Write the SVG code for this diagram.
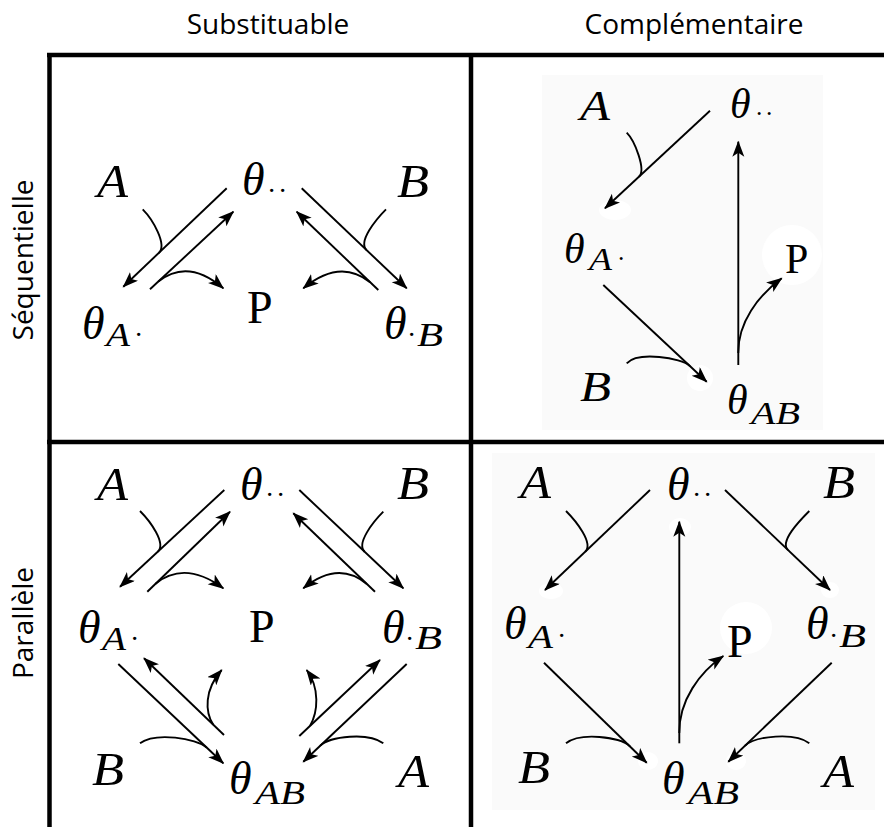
<svg xmlns="http://www.w3.org/2000/svg" width="884" height="827" viewBox="0 0 884 827">
<style>
.ln{stroke:#000;stroke-width:1.9;fill:none}
.ar{marker-end:url(#ah)}
.m{font-family:"Liberation Serif",serif;font-style:italic;fill:#000}
.u{font-family:"Liberation Serif",serif;fill:#000}
.big{font-size:46px}
.sub{font-size:34px}
.dt{font-size:28px}
.sm{font-size:42px}
.smsub{font-size:32px}
.smdt{font-size:25px}
.hd{font-family:"Open Sans","Noto Sans",sans-serif;font-size:28px;fill:#000}
.grid{stroke:#000;stroke-width:4.5;fill:none}
.halo{fill:#fff}
</style>
<defs>
<marker id="ah" markerUnits="userSpaceOnUse" markerWidth="18" markerHeight="14" refX="15" refY="6" orient="auto">
<path d="M0,0 L16,6 L0,12 L4,6 z" fill="#000"/>
</marker>
</defs>
<rect width="884" height="827" fill="#fff"/>
<rect x="542" y="75" width="281" height="355" fill="#fafafa"/>
<rect x="492" y="453" width="383" height="357" fill="#fafafa"/>
<g id="halos">
<ellipse class="halo" cx="615" cy="210" rx="16" ry="10"/>
<circle class="halo" cx="792" cy="255" r="30"/>
<ellipse class="halo" cx="700" cy="378" rx="13" ry="13"/>
<ellipse class="halo" cx="680" cy="527" rx="11" ry="9"/>
<ellipse class="halo" cx="551" cy="591" rx="12" ry="8"/>
<ellipse class="halo" cx="830" cy="590" rx="9" ry="8"/>
<circle class="halo" cx="746" cy="628" r="26"/>
<ellipse class="halo" cx="648" cy="761" rx="10" ry="9"/>
<ellipse class="halo" cx="736" cy="761" rx="10" ry="9"/>
</g>
<g id="grid">
<line class="grid" x1="47" y1="55" x2="884" y2="55"/>
<line class="grid" x1="47" y1="442" x2="884" y2="442"/>
<line class="grid" x1="49.5" y1="53" x2="49.5" y2="827"/>
<line class="grid" x1="471" y1="53" x2="471" y2="827"/>
</g>
<g id="headers">
<text class="hd" x="268" y="34" text-anchor="middle">Substituable</text>
<text class="hd" x="694" y="34" text-anchor="middle">Complémentaire</text>
<text class="hd" transform="translate(33,260) rotate(-90)" text-anchor="middle">Séquentielle</text>
<text class="hd" transform="translate(33,623) rotate(-90)" text-anchor="middle">Parallèle</text>
</g>
<g id="connectors">
<!-- upper-left -->
<path class="ln ar" d="M226.7,188.3 L123.3,286.7"/>
<path class="ln ar" d="M150,289.3 L233.3,211.7"/>
<path class="ln" d="M142.7,209.3 C152.7,219.3 167.5,244.7 158.8,253"/>
<path class="ln ar" d="M158.3,281.5 Q188,258 223.3,288.3"/>
<path class="ln ar" d="M301.7,188.3 L406.7,288.3"/>
<path class="ln ar" d="M378.3,290 L296.7,211.7"/>
<path class="ln" d="M386,209.3 C376,219.3 357.8,241.7 366.5,250"/>
<path class="ln ar" d="M370.1,282.2 Q340,258 303.3,288.3"/>
<!-- upper-right -->
<path class="ln ar" d="M710,110.7 L605,208.3"/>
<path class="ln" d="M626.7,132.7 C634.7,140.7 646.3,169.9 639,176.7"/>
<path class="ln ar" d="M603.3,285 L706.7,381.7"/>
<path class="ln" d="M626.7,363.3 C638,351 681.2,357.8 690,366.1"/>
<path class="ln ar" d="M738.3,365 L738.3,141.7"/>
<path class="ln ar" d="M738.3,353 C738,322 758,296 781.7,278.3"/>
<!-- lower-left -->
<path class="ln ar" d="M224.3,490 L120,586.7"/>
<path class="ln ar" d="M147.3,591.7 L230,511.7"/>
<path class="ln" d="M140,511 C150,521 166.6,543.5 157.8,551.7"/>
<path class="ln ar" d="M155.6,583.7 Q185,560 223.3,588.3"/>
<path class="ln ar" d="M299.3,490 L403.3,588.3"/>
<path class="ln ar" d="M375,591.7 L293.3,513.3"/>
<path class="ln" d="M383.3,511.7 C373.3,521.7 355.9,543.5 364.6,551.7"/>
<path class="ln ar" d="M366.8,583.9 Q338,560 303.3,588.3"/>
<path class="ln ar" d="M118.3,664 L223.3,763.3"/>
<path class="ln ar" d="M224,735 L144,658.3"/>
<path class="ln" d="M140,743.3 C155,732 196.5,738 206.7,747.6"/>
<path class="ln ar" d="M213.3,724.8 C205,712 204,690 221.7,670"/>
<path class="ln ar" d="M406.7,664 L303.3,761.7"/>
<path class="ln ar" d="M299.3,736 L380,660"/>
<path class="ln" d="M383.3,743.3 C368,732 330.2,736.3 320,745.9"/>
<path class="ln ar" d="M310,725.9 C318,712 320,688 306.7,670"/>
<!-- lower-right -->
<path class="ln ar" d="M650,490 L545,590"/>
<path class="ln" d="M566,511 C576,521 593.9,543.4 585.2,551.7"/>
<path class="ln ar" d="M725,490 L830,590"/>
<path class="ln" d="M809.3,511 C799.3,521 779.3,541.7 788,550"/>
<path class="ln ar" d="M544,662.7 L646.7,762.7"/>
<path class="ln" d="M566,743.3 C580,732 620,736.6 630,746.4"/>
<path class="ln ar" d="M831.7,662.7 L728.3,761.7"/>
<path class="ln" d="M809.3,743.3 C795,732 755.1,736 745,745.7"/>
<path class="ln ar" d="M679.3,743.3 L679.3,521.7"/>
<path class="ln ar" d="M679.3,733 C679,700 700,672 723.3,656"/>
</g>
<!-- nodes: upper-left -->
<g id="ul-A"><text class="m big" x="97" y="197" textLength="31" lengthAdjust="spacingAndGlyphs">A</text></g>
<g id="ul-t00"><text class="m big" x="242" y="195">θ</text><text class="u dt" x="267 278" y="200">··</text></g>
<g id="ul-B"><text class="m big" x="397" y="197" textLength="32" lengthAdjust="spacingAndGlyphs">B</text></g>
<g id="ul-tA"><text class="m big" x="82" y="339">θ</text><text class="m sub" x="106" y="346" textLength="24" lengthAdjust="spacingAndGlyphs">A</text><text class="u dt" x="134" y="344">·</text></g>
<g id="ul-P"><text class="u big" x="247" y="323">P</text></g>
<g id="ul-tB"><text class="m big" x="384" y="339">θ</text><text class="u dt" x="407" y="344">·</text><text class="m sub" x="417" y="346" textLength="26" lengthAdjust="spacingAndGlyphs">B</text></g>
<!-- nodes: upper-right -->
<g id="ur-A"><text class="m sm" x="580" y="120" textLength="30" lengthAdjust="spacingAndGlyphs">A</text></g>
<g id="ur-t00"><text class="m sm" x="730" y="118">θ</text><text class="u smdt" x="755 765" y="122">··</text></g>
<g id="ur-tA"><text class="m sm" x="564" y="263">θ</text><text class="m smsub" x="589" y="270" textLength="23" lengthAdjust="spacingAndGlyphs">A</text><text class="u smdt" x="617" y="267">·</text></g>
<g id="ur-P"><text class="u sm" x="785" y="273">P</text></g>
<g id="ur-B"><text class="m sm" x="580" y="401" textLength="31" lengthAdjust="spacingAndGlyphs">B</text></g>
<g id="ur-tAB"><text class="m sm" x="727" y="414">θ</text><text class="m smsub" x="751" y="424" textLength="49" lengthAdjust="spacingAndGlyphs">AB</text></g>
<!-- nodes: lower-left -->
<g id="ll-A"><text class="m big" x="97" y="500" textLength="31" lengthAdjust="spacingAndGlyphs">A</text></g>
<g id="ll-t00"><text class="m big" x="240" y="500">θ</text><text class="u dt" x="265 276" y="504">··</text></g>
<g id="ll-B"><text class="m big" x="397" y="499" textLength="32" lengthAdjust="spacingAndGlyphs">B</text></g>
<g id="ll-tA"><text class="m big" x="78" y="643">θ</text><text class="m sub" x="102" y="650" textLength="24" lengthAdjust="spacingAndGlyphs">A</text><text class="u dt" x="130" y="648">·</text></g>
<g id="ll-P"><text class="u big" x="249" y="642">P</text></g>
<g id="ll-tB"><text class="m big" x="382" y="643">θ</text><text class="u dt" x="405" y="648">·</text><text class="m sub" x="415" y="649" textLength="27" lengthAdjust="spacingAndGlyphs">B</text></g>
<g id="ll-B2"><text class="m big" x="92" y="785" textLength="32" lengthAdjust="spacingAndGlyphs">B</text></g>
<g id="ll-tAB"><text class="m big" x="229" y="794">θ</text><text class="m sub" x="255" y="804" textLength="50" lengthAdjust="spacingAndGlyphs">AB</text></g>
<g id="ll-A2"><text class="m big" x="398" y="787" textLength="31" lengthAdjust="spacingAndGlyphs">A</text></g>
<!-- nodes: lower-right -->
<g id="lr-A"><text class="m big" x="520" y="498" textLength="31" lengthAdjust="spacingAndGlyphs">A</text></g>
<g id="lr-t00"><text class="m big" x="667" y="500">θ</text><text class="u dt" x="692 703" y="504">··</text></g>
<g id="lr-B"><text class="m big" x="823" y="498" textLength="32" lengthAdjust="spacingAndGlyphs">B</text></g>
<g id="lr-tA"><text class="m big" x="504" y="639">θ</text><text class="m sub" x="528" y="648" textLength="25" lengthAdjust="spacingAndGlyphs">A</text><text class="u dt" x="557" y="645">·</text></g>
<g id="lr-P"><text class="u big" x="727" y="657">P</text></g>
<g id="lr-tB"><text class="m big" x="806" y="639">θ</text><text class="u dt" x="829" y="645">·</text><text class="m sub" x="839" y="647" textLength="27" lengthAdjust="spacingAndGlyphs">B</text></g>
<g id="lr-B2"><text class="m big" x="518" y="783" textLength="32" lengthAdjust="spacingAndGlyphs">B</text></g>
<g id="lr-tAB"><text class="m big" x="662" y="794">θ</text><text class="m sub" x="688" y="804" textLength="51" lengthAdjust="spacingAndGlyphs">AB</text></g>
<g id="lr-A2"><text class="m big" x="823" y="787" textLength="31" lengthAdjust="spacingAndGlyphs">A</text></g>
</svg>
